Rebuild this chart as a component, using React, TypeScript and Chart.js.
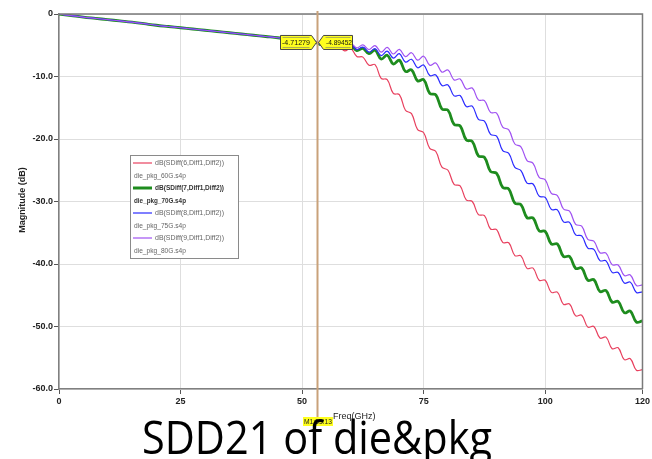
import React, { useEffect, useRef } from "react";
import { Chart, registerables } from "chart.js";

Chart.register(...registerables);

// ---------- data ----------
const freqGHz = [
  0, 2.5, 5, 7.5, 10, 12.5, 15, 17.5, 20, 22.5, 25, 27.5, 30, 32.5, 35, 37.5, 40, 42.5, 45, 47.5, 50,
  51.25, 52.5, 53.75, 55, 56.25, 57.5, 58.75, 60,
  61.25, 62.5, 63.75, 65, 66.25, 67.5, 68.75, 70,
  71.25, 72.5, 73.75, 75, 76.25, 77.5, 78.75, 80,
  81.25, 82.5, 83.75, 85, 86.25, 87.5, 88.75, 90,
  91.25, 92.5, 93.75, 95, 96.25, 97.5, 98.75, 100,
  101.25, 102.5, 103.75, 105, 106.25, 107.5, 108.75, 110,
  111.25, 112.5, 113.75, 115, 116.25, 117.5, 118.75, 120,
];

const sdd21_60G = [
  0, -0.25, -0.5, -0.7, -0.9, -1.1, -1.3, -1.55, -1.8, -2.0, -2.2, -2.4, -2.6, -2.8, -3.0, -3.2, -3.4, -3.6, -3.8, -4.05, -4.3,
  -4.63, -4.5, -4.98, -4.85, -5.5, -5.1, -5.9, -5.5,
  -6.8, -6.9, -8.2, -8.1, -10.3, -10.5, -12.7, -12.9,
  -15.4, -15.95, -18.5, -19.0, -21.5, -22.0, -24.5, -25.0,
  -27.25, -27.5, -29.75, -30.0, -32.1, -32.25, -34.4, -34.5,
  -36.55, -36.6, -38.65, -38.7, -40.7, -40.65, -42.6, -42.6,
  -44.55, -44.5, -46.45, -46.4, -48.3, -48.2, -50.1, -50.0,
  -51.85, -51.7, -53.55, -53.4, -55.3, -55.15, -57.0, -56.9,
];

const sdd21_70G = [
  0, -0.25, -0.5, -0.7, -0.9, -1.1, -1.3, -1.55, -1.8, -2.0, -2.2, -2.4, -2.6, -2.8, -3.0, -3.2, -3.4, -3.6, -3.8, -4.05, -4.3,
  -4.6, -4.45, -4.9, -4.75, -5.3, -4.8, -5.5, -5.0,
  -5.85, -5.5, -6.35, -5.8, -7.2, -6.6, -8.0, -7.4,
  -9.2, -8.95, -10.7, -10.5, -12.7, -12.95, -15.2, -15.4,
  -17.65, -17.9, -20.15, -20.4, -22.7, -22.95, -25.2, -25.5,
  -27.75, -28.0, -30.25, -30.5, -32.6, -32.65, -34.7, -34.8,
  -36.8, -36.8, -38.8, -38.8, -40.7, -40.65, -42.6, -42.5,
  -44.4, -44.25, -46.1, -46.0, -47.8, -47.55, -49.3, -49.1,
];

const sdd21_75G = [
  0, -0.25, -0.5, -0.7, -0.9, -1.1, -1.3, -1.55, -1.8, -2.0, -2.2, -2.4, -2.6, -2.8, -3.0, -3.2, -3.4, -3.6, -3.8, -4.05, -4.3,
  -4.57, -4.4, -4.83, -4.65, -5.2, -4.7, -5.4, -4.9,
  -5.7, -5.3, -6.1, -5.55, -6.65, -5.95, -7.05, -6.35,
  -7.7, -7.25, -8.6, -8.15, -9.85, -9.75, -11.45, -11.35,
  -13.1, -13.05, -14.8, -14.75, -16.85, -17.15, -19.25, -19.55,
  -21.85, -22.3, -24.55, -25.05, -27.05, -27.2, -29.15, -29.35,
  -31.25, -31.35, -33.25, -33.35, -35.35, -35.5, -37.45, -37.65,
  -39.45, -39.5, -41.35, -41.35, -43.05, -42.9, -44.55, -44.45,
];

const sdd21_80G = [
  0, -0.25, -0.5, -0.7, -0.9, -1.1, -1.3, -1.55, -1.8, -2.0, -2.2, -2.4, -2.6, -2.8, -3.0, -3.2, -3.4, -3.6, -3.8, -4.05, -4.3,
  -4.51, -4.32, -4.73, -4.55, -5.08, -4.55, -5.23, -4.7,
  -5.42, -4.95, -5.68, -5.05, -6.1, -5.35, -6.4, -5.65,
  -6.83, -6.2, -7.38, -6.75, -8.2, -7.85, -9.3, -8.95,
  -10.55, -10.4, -12.0, -11.85, -13.75, -13.85, -15.75, -15.85,
  -18.1, -18.55, -20.8, -21.25, -23.45, -23.9, -26.15, -26.55,
  -28.7, -29.05, -31.2, -31.55, -33.65, -33.95, -36.05, -36.35,
  -38.2, -38.25, -40.1, -40.15, -41.85, -41.75, -43.45, -43.35,
];

const seriesNames = [
  "dB(SDiff(6,Diff1,Diff2))",
  "dB(SDiff(7,Diff1,Diff2))",
  "dB(SDiff(8,Diff1,Diff2))",
  "dB(SDiff(9,Diff1,Diff2))",
];
const fileNames = ["die_pkg_60G.s4p", "die_pkg_70G.s4p", "die_pkg_75G.s4p", "die_pkg_80G.s4p"];
const seriesColors = ["#E8415F", "#1E8C1E", "#2B2BFF", "#A052F2"];
const seriesWidths = [1.2, 2.8, 1.2, 1.2];

const xTicks = [0, 25, 50, 75, 100, 120];
const yTicks = [0, -10, -20, -30, -40, -50, -60];

const markerFreq = 53.13;
const markerValues = ["-4.71279", "-4.89452"];
const markerLevel = -4.71279;
const markerFreqLabel = "M1:53.13";

const xTitle = "Freq(GHz)";
const yTitle = "Magnitude (dB)";
const caption = "SDD21 of die&pkg";

const seriesValues = [sdd21_60G, sdd21_70G, sdd21_75G, sdd21_80G];

const overlayPlugin = {
  id: "overlay",
  afterDatasetsDraw(chart: any) {
    const { ctx, chartArea, scales } = chart;
    const xs = scales.x;
    const ys = scales.y;
    ctx.save();

    // frame top/right
    ctx.strokeStyle = "#7a7a7a";
    ctx.lineWidth = 1.5;
    ctx.beginPath();
    ctx.moveTo(chartArea.left, chartArea.top);
    ctx.lineTo(chartArea.right, chartArea.top);
    ctx.lineTo(chartArea.right, chartArea.bottom);
    ctx.stroke();

    // marker line
    const mx = Math.round(xs.getPixelForValue(markerFreq)) + 0.5;
    ctx.strokeStyle = "#C9A27A";
    ctx.lineWidth = 2;
    ctx.beginPath();
    ctx.moveTo(mx, chartArea.top - 3);
    ctx.lineTo(mx, 418);
    ctx.stroke();

    // marker value labels
    const cy = ys.getPixelForValue(markerLevel) - 1;
    ctx.font = "8px 'Liberation Sans', Arial, sans-serif";
    ctx.textBaseline = "middle";
    ctx.textAlign = "center";
    const drawTag = (x1: number, x2: number, tipX: number, leftTip: boolean, txt: string) => {
      ctx.beginPath();
      if (leftTip) {
        ctx.moveTo(tipX, cy);
        ctx.lineTo(x1, cy - 7);
        ctx.lineTo(x2, cy - 7);
        ctx.lineTo(x2, cy + 7);
        ctx.lineTo(x1, cy + 7);
      } else {
        ctx.moveTo(x1, cy - 7);
        ctx.lineTo(x2, cy - 7);
        ctx.lineTo(tipX, cy);
        ctx.lineTo(x2, cy + 7);
        ctx.lineTo(x1, cy + 7);
      }
      ctx.closePath();
      ctx.fillStyle = "#FFFF1E";
      ctx.fill();
      ctx.strokeStyle = "#444";
      ctx.lineWidth = 1;
      ctx.stroke();
      ctx.beginPath();
      ctx.moveTo(x1 + 2, cy - 5);
      ctx.lineTo(x2 - 2, cy - 5);
      ctx.moveTo(x1 + 2, cy + 5);
      ctx.lineTo(x2 - 2, cy + 5);
      ctx.strokeStyle = "#777";
      ctx.lineWidth = 0.6;
      ctx.stroke();
      ctx.fillStyle = "#111";
      ctx.fillText(txt, (x1 + x2) / 2 + (leftTip ? 1 : 0), cy + 0.5, x2 - x1 - 3);
    };
    drawTag(mx - 37, mx - 6, mx - 1, false, markerValues[0]);
    drawTag(mx + 6, mx + 35, mx + 1, true, markerValues[1]);

    // legend
    const lx = 130, ly = 155, lw = 108, lh = 103;
    ctx.fillStyle = "#ffffff";
    ctx.fillRect(lx, ly, lw, lh);
    ctx.strokeStyle = "#8a8a8a";
    ctx.lineWidth = 1;
    ctx.strokeRect(lx + 0.5, ly + 0.5, lw, lh);
    ctx.textAlign = "left";
    for (let i = 0; i < seriesNames.length; i++) {
      const ry = ly + 8 + i * 25;
      ctx.strokeStyle = seriesColors[i];
      ctx.lineWidth = i === 1 ? 3 : 1.2;
      ctx.beginPath();
      ctx.moveTo(lx + 3, ry);
      ctx.lineTo(lx + 22, ry);
      ctx.stroke();
      const bold = i === 1;
      ctx.fillStyle = bold ? "#333" : "#666";
      ctx.font = (bold ? "bold " : "") + "7px 'Liberation Sans', Arial, sans-serif";
      ctx.fillText(seriesNames[i], lx + 25, ry, 69);
      ctx.fillText(fileNames[i], lx + 4, ry + 13, 52);
    }

    // y title
    ctx.save();
    ctx.translate(23, 200);
    ctx.rotate(-Math.PI / 2);
    ctx.textAlign = "center";
    ctx.fillStyle = "#222";
    ctx.font = "bold 9px 'Liberation Sans', Arial, sans-serif";
    ctx.fillText(yTitle, 0, 0);
    ctx.restore();

    // marker frequency label
    ctx.fillStyle = "#FFFF1E";
    ctx.fillRect(303, 417, 30, 9);
    ctx.fillStyle = "#222";
    ctx.textAlign = "left";
    ctx.font = "8px 'Liberation Sans', Arial, sans-serif";
    ctx.fillText(markerFreqLabel, 304, 421.5, 28);

    // x title
    ctx.font = "9px 'Liberation Sans', Arial, sans-serif";
    ctx.fillText(xTitle, 333, 417);

    // caption
    ctx.fillStyle = "#000";
    ctx.textAlign = "center";
    ctx.textBaseline = "alphabetic";
    ctx.font = "45px 'Open Sans', 'Noto Sans', sans-serif";
    ctx.fillText(caption, 317, 454, 350);

    ctx.restore();
  },
};

export default function App() {
  const ref = useRef<HTMLCanvasElement | null>(null);
  useEffect(() => {
    document.body.style.margin = "0";
    const canvas = ref.current;
    if (!canvas) return;
    const order = [3, 2, 1, 0];
    const chart = new Chart(canvas, {
      type: "line",
      data: {
        datasets: seriesValues.map((vals, i) => ({
          label: seriesNames[i],
          data: freqGHz.map((f, k) => ({ x: f, y: vals[k] })),
          borderColor: seriesColors[i],
          backgroundColor: seriesColors[i],
          borderWidth: seriesWidths[i],
          pointRadius: 0,
          tension: 0.4,
          fill: false,
          order: order[i],
        })),
      },
      options: {
        animation: false,
        responsive: false,
        devicePixelRatio: 1,
        layout: { padding: { top: 14, right: 7, left: 0, bottom: 0 } },
        plugins: { legend: { display: false }, tooltip: { enabled: false } },
        scales: {
          x: {
            type: "linear",
            min: 0,
            max: 120,
            afterBuildTicks: (s: any) => {
              s.ticks = xTicks.map((v) => ({ value: v }));
            },
            afterFit: (s: any) => {
              s.height = 70;
            },
            grid: { color: "#dedede", tickColor: "#555", tickLength: 5 },
            border: { color: "#808080", width: 1.5 },
            ticks: {
              autoSkip: false,
              maxRotation: 0,
              padding: 2,
              color: "#222",
              font: { family: "'Liberation Sans', Arial, sans-serif", size: 9, weight: "bold" },
              callback: (v: any) => String(v),
            },
          },
          y: {
            type: "linear",
            min: -60,
            max: 0,
            afterBuildTicks: (s: any) => {
              s.ticks = yTicks.map((v) => ({ value: v }));
            },
            afterFit: (s: any) => {
              s.width = 59;
            },
            grid: { color: "#dedede", tickColor: "#555", tickLength: 5 },
            border: { color: "#808080", width: 1.5 },
            ticks: {
              padding: 1,
              color: "#222",
              font: { family: "'Liberation Sans', Arial, sans-serif", size: 9, weight: "bold" },
              callback: (v: any) => (Number(v) === 0 ? "0" : Number(v).toFixed(1)),
            },
          },
        },
      },
      plugins: [overlayPlugin],
    } as any);
    return () => chart.destroy();
  }, []);
  return (
    <div style={{ width: 652, height: 459, background: "#fff" }}>
      <canvas ref={ref} width={652} height={459} style={{ display: "block", width: 652, height: 459 }} />
    </div>
  );
}
